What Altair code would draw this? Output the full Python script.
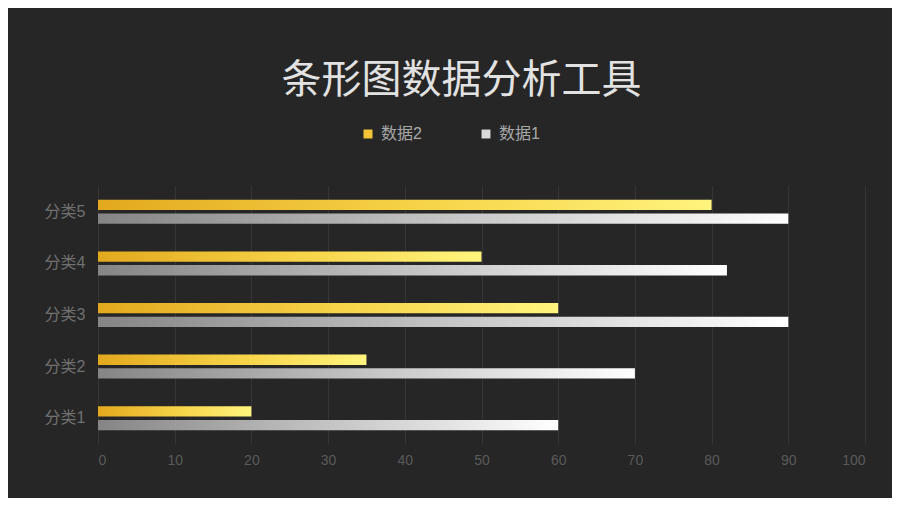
import altair as alt
import pandas as pd

categories = ["分类1", "分类2", "分类3", "分类4", "分类5"]
series1 = [60, 70, 90, 82, 90]   # 数据1
series2 = [20, 35, 60, 50, 80]   # 数据2
series_names = ["数据2", "数据1"]
x_ticks = [0, 10, 20, 30, 40, 50, 60, 70, 80, 90, 100]

rows = []
for c, v1, v2 in zip(categories, series1, series2):
    rows.append({"cat": c, "series": "数据2", "value": v2})
    rows.append({"cat": c, "series": "数据1", "value": v1})
df = pd.DataFrame(rows)

FONT = "Liberation Sans, Noto Sans CJK SC, sans-serif"

gold = {
    "gradient": "linear", "x1": 0, "y1": 0, "x2": 1, "y2": 0,
    "stops": [{"offset": 0, "color": "#e3a91e"},
              {"offset": 0.55, "color": "#f7d54a"},
              {"offset": 1, "color": "#fff47e"}],
}
silver = {
    "gradient": "linear", "x1": 0, "y1": 0, "x2": 1, "y2": 0,
    "stops": [{"offset": 0, "color": "#858585"},
              {"offset": 0.5, "color": "#c4c4c4"},
              {"offset": 1, "color": "#ffffff"}],
}

cat_order = categories[::-1]

y_enc = alt.Y("cat:N", sort=cat_order, title=None,
              scale=alt.Scale(paddingInner=0.534, paddingOuter=0.267),
              axis=alt.Axis(labelColor="#707070", labelFontSize=16, labelFont=FONT,
                            ticks=False, domain=False, labelPadding=13, grid=False))
x_enc = alt.X("value:Q", title=None,
              scale=alt.Scale(domain=[0, 100], nice=False),
              axis=alt.Axis(values=x_ticks, labelColor="#5a5a5a", labelFontSize=14,
                            labelFont=FONT, ticks=False, domain=False, labelPadding=9,
                            grid=True, gridColor="#363636", gridWidth=1))

bars = alt.Chart(df).mark_bar(cornerRadius=0).encode(
    y=y_enc,
    x=x_enc,
    yOffset=alt.YOffset("series:N", sort=series_names,
                        scale=alt.Scale(domain=series_names, paddingInner=0.25)),
    fill=alt.condition(alt.datum.series == "数据2", alt.value(gold), alt.value(silver)),
)

legend_layer = alt.Chart(df).mark_square(opacity=0, size=1).encode(
    y=alt.Y("cat:N", sort=cat_order),
    x=alt.X("value:Q"),
    color=alt.Color("series:N",
                    scale=alt.Scale(domain=series_names, range=["#f2c535", "#d9d9d9"]),
                    legend=alt.Legend(title=None, orient="none", direction="horizontal",
                                      legendX=262, legendY=-60,
                                      symbolType="square", symbolSize=80,
                                      symbolOpacity=1, symbolStrokeWidth=0,
                                      labelColor="#a8a8a8", labelFontSize=16,
                                      labelFont=FONT, columnPadding=56,
                                      labelOffset=5)),
)

chart = alt.layer(bars, legend_layer).properties(
    width=767,
    height=258,
    background="#262626",
    padding={"left": 90, "top": 178, "right": 27, "bottom": 54},
    autosize=alt.AutoSizeParams(type="none"),
    title=alt.TitleParams("条形图数据分析工具", color="#e2e2e2", fontSize=40,
                          font="Noto Sans CJK SC", fontWeight="normal",
                          anchor="middle", dx=-20, offset=25),
).configure_view(stroke=None)

chart.save("out.html", embed_options={"renderer": "svg", "actions": False})
